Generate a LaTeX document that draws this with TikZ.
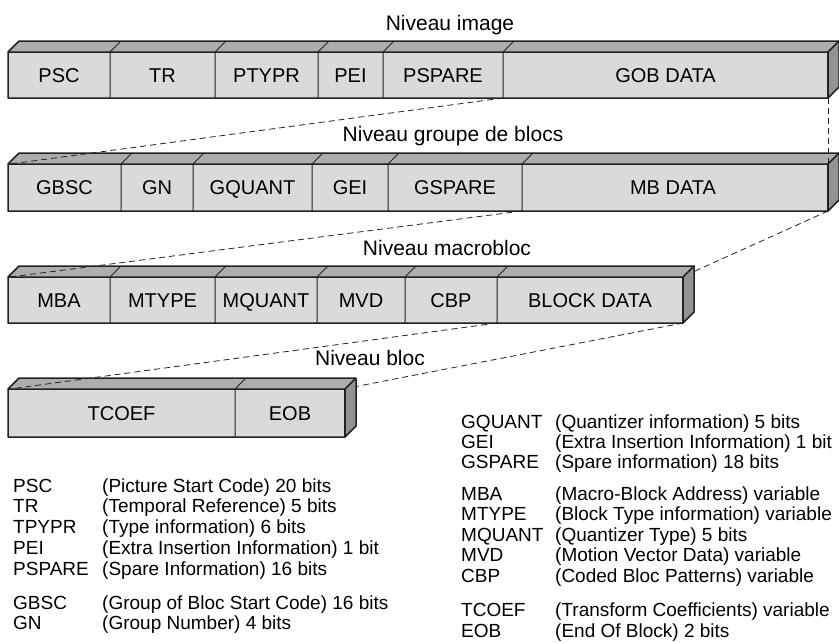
\documentclass[tikz,border=0pt]{standalone}
\usepackage{fontspec}
\setmainfont{Liberation Sans}
\definecolor{frontgray}{HTML}{DADADA}
\definecolor{topgray}{HTML}{ADADAD}
\definecolor{sidegray}{HTML}{939393}
\definecolor{edge}{HTML}{222222}
\tikzset{
  outer/.style={draw=edge, line width=1.5pt, line join=round},
  inner/.style={draw=edge, line width=1pt},
  cell/.style={font=\fontsize{20}{20}\selectfont, inner sep=0pt, anchor=base, text=black},
  lvl/.style={font=\fontsize{21}{21}\selectfont, inner sep=0pt, anchor=base, text=black},
  abbr/.style={font=\fontsize{19}{19}\selectfont, inner sep=0pt, anchor=base west, text=black},
  link/.style={draw=edge, line width=0.8pt, dash pattern=on 6pt off 4pt},
}
% #1 top y, #2 bottom y, #3 right x, #4 interior dividers
\newcommand\mybar[4]{%
  \fill[topgray] (8,#1) -- (19,#1-11) -- (#3+11,#1-11) -- (#3,#1) -- cycle;
  \fill[sidegray] (#3,#1) -- (#3+11,#1-11) -- (#3+11,#2-11) -- (#3,#2) -- cycle;
  \fill[frontgray] (8,#1) rectangle (#3,#2);
  \foreach \xx in {#4} {\draw[inner] (\xx,#2) -- (\xx,#1) -- (\xx+11,#1-11);}
  \draw[outer] (8,#2) -- (8,#1) -- (19,#1-11) -- (#3+11,#1-11) -- (#3+11,#2-11) -- (#3,#2) -- cycle;
  \draw[outer] (8,#1) -- (#3,#1) -- (#3+11,#1-11);
  \draw[outer] (#3,#1) -- (#3,#2);
}
\begin{document}
\begin{tikzpicture}[x=1pt,y=-1pt]
\useasboundingbox (0,0) rectangle (839,643);

% level titles
\node[lvl] (t1) at (450,30) {Niveau image};
\node[lvl] (t2) at (453,141) {Niveau groupe de blocs};
\node[lvl] (t3) at (447,255) {Niveau macrobloc};
\node[lvl] (t4) at (370,365) {Niveau bloc};

% bars
\mybar{52}{98}{828}{110,215,318,383,503}
\mybar{164}{211}{828}{121,193,312,388,522}
\mybar{277}{323}{683}{110,215,317,405,497}
\mybar{389}{437}{345}{235}

% bar 1 cells
\node[cell] (psc) at (59,82) {PSC};
\node[cell] (tr) at (162.5,82) {TR};
\node[cell] (ptypr) at (266.5,82) {PTYPR};
\node[cell] (pei) at (350.5,82) {PEI};
\node[cell] (pspare) at (443,82) {PSPARE};
\node[cell] (gobdata) at (665.5,82) {GOB DATA};
% bar 2 cells
\node[cell] (gbsc) at (64.5,194.5) {GBSC};
\node[cell] (gn) at (157,194.5) {GN};
\node[cell] (gquant) at (252.5,194.5) {GQUANT};
\node[cell] (gei) at (350,194.5) {GEI};
\node[cell] (gspare) at (455,194.5) {GSPARE};
\node[cell] (mbdata) at (673,194.5) {MB DATA};
% bar 3 cells
\node[cell] (mba) at (59,307) {MBA};
\node[cell] (mtype) at (162.5,307) {MTYPE};
\node[cell] (mquant) at (266,307) {MQUANT};
\node[cell] (mvd) at (361,307) {MVD};
\node[cell] (cbp) at (451,307) {CBP};
\node[cell] (blockdata) at (590,307) {BLOCK DATA};
% bar 4 cells
\node[cell] (tcoef) at (121.5,420) {TCOEF};
\node[cell] (eob) at (290,420) {EOB};

% connector end points
\coordinate (a1) at (503,98);
\coordinate (a2) at (828,98);
\coordinate (b1) at (10,164);
\coordinate (b2) at (828,164);
\coordinate (c1) at (522,211);
\coordinate (c2) at (828,211);
\coordinate (d1) at (10,277);
\coordinate (d2) at (694,271.5);
\coordinate (e1) at (497,323);
\coordinate (e2) at (683,323);
\coordinate (f1) at (10,389);
\coordinate (f2) at (356,386.5);

\draw[link] (a1) -- (b1);
\draw[link] (a2) -- (b2);
\draw[link] (c1) -- (d1);
\draw[link] (c2) -- (d2);
\draw[link] (e1) -- (f1);
\draw[link] (e2) -- (f2);

% legend, left column
\node[abbr] (lpsc) at (13,492) {PSC};
\node[abbr] (dpsc) at (102,492) {(Picture Start Code) 20 bits};
\node[abbr] (ltr) at (13,512.8) {TR};
\node[abbr] (dtr) at (102,512.8) {(Temporal Reference) 5 bits};
\node[abbr] (ltp) at (13,533.6) {TPYPR};
\node[abbr] (dtp) at (102,533.6) {(Type information) 6 bits};
\node[abbr] (lpei) at (13,554.4) {PEI};
\node[abbr] (dpei) at (102,554.4) {(Extra Insertion Information) 1 bit};
\node[abbr] (lpsp) at (13,575.2) {PSPARE};
\node[abbr] (dpsp) at (102,575.2) {(Spare Information) 16 bits};
\node[abbr] (lgbsc) at (13,609) {GBSC};
\node[abbr] (dgbsc) at (102,609) {(Group of Bloc Start Code) 16 bits};
\node[abbr] (lgn) at (13,629.8) {GN};
\node[abbr] (dgn) at (102,629.8) {(Group Number) 4 bits};

% legend, right column
\node[abbr] (lgq) at (461,428) {GQUANT};
\node[abbr] (dgq) at (555,428) {(Quantizer information) 5 bits};
\node[abbr] (lgei) at (461,448) {GEI};
\node[abbr] (dgei) at (555,448) {(Extra Insertion Information) 1 bit};
\node[abbr] (lgsp) at (461,468) {GSPARE};
\node[abbr] (dgsp) at (555,468) {(Spare information) 18 bits};
\node[abbr] (lmba) at (461,500) {MBA};
\node[abbr] (dmba) at (555,500) {(Macro-Block Address) variable};
\node[abbr] (lmty) at (461,520.5) {MTYPE};
\node[abbr] (dmty) at (555,520.5) {(Block Type information) variable};
\node[abbr] (lmq) at (461,541) {MQUANT};
\node[abbr] (dmq) at (555,541) {(Quantizer Type) 5 bits};
\node[abbr] (lmvd) at (461,561.5) {MVD};
\node[abbr] (dmvd) at (555,561.5) {(Motion Vector Data) variable};
\node[abbr] (lcbp) at (461,582) {CBP};
\node[abbr] (dcbp) at (555,582) {(Coded Bloc Patterns) variable};
\node[abbr] (ltc) at (461,616) {TCOEF};
\node[abbr] (dtc) at (555,616) {(Transform Coefficients) variable};
\node[abbr] (leob) at (461,637) {EOB};
\node[abbr] (deob) at (555,637) {(End Of Block) 2 bits};
\end{tikzpicture}
\end{document}
